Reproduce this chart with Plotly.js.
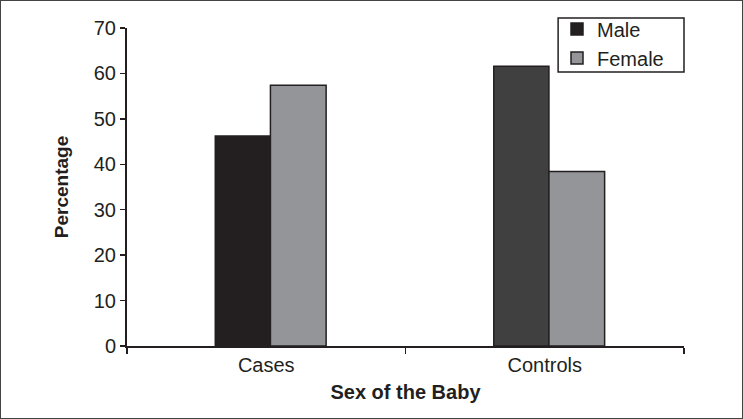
<!DOCTYPE html>
<html>
<head>
<meta charset="utf-8">
<script src="https://cdn.plot.ly/plotly-3.0.1.min.js"></script>
<style>
html,body{margin:0;padding:0;background:#fff;}
#frame{width:743px;height:419px;box-sizing:border-box;border:1px solid #444;position:relative;overflow:hidden;}
#chart{position:absolute;left:-1px;top:-1px;width:743px;height:419px;}
</style>
</head>
<body>
<div id="frame"><div id="chart"></div></div>
<script>
const categories = ["Cases", "Controls"];
const maleValues = [46.2, 61.6];
const femaleValues = [57.4, 38.4];
const yTicks = [0, 10, 20, 30, 40, 50, 60, 70];

const FONT = '"Liberation Sans Narrow", "Arial Narrow", "Liberation Sans", Arial, sans-serif';

const traces = [
  {
    type: 'bar', name: 'Male', x: categories, y: maleValues,
    width: 0.198, offset: -0.183,
    marker: {color: ['#231f20', '#404040'], line: {color: '#231f20', width: 1.5}},
    hoverinfo: 'none'
  },
  {
    type: 'bar', name: 'Female', x: categories, y: femaleValues,
    width: 0.2, offset: 0.015,
    marker: {color: '#939598', line: {color: '#231f20', width: 1.5}},
    hoverinfo: 'none'
  }
];

const layout = {
  width: 743, height: 419,
  margin: {l: 127, r: 59, t: 28, b: 73, autoexpand: false},
  paper_bgcolor: '#fff', plot_bgcolor: '#fff',
  font: {family: FONT, size: 20, color: '#231f20'},
  barmode: 'group',
  showlegend: true,
  legend: {
    x: 0.772, xanchor: 'left', y: 1.058, yanchor: 'top',
    borderwidth: 0, bgcolor: 'rgba(0,0,0,0)',
    font: {family: FONT, size: 20, color: '#231f20'},
    tracegroupgap: 0
  },
  shapes: [{
    type: 'rect', xref: 'paper', yref: 'paper',
    x0: 0.774, x1: 1.0, y0: 0.8616, y1: 1.0314,
    line: {color: '#231f20', width: 1.5}, fillcolor: '#fff', layer: 'above'
  }],
  xaxis: {
    type: 'category',
    showline: true, linecolor: '#231f20', linewidth: 2,
    ticks: 'outside', tickson: 'boundaries', ticklen: 6, tickwidth: 1.5, tickcolor: '#231f20',
    showgrid: false, zeroline: false,
    tickfont: {family: FONT, size: 20, color: '#231f20'},
    title: {text: '<b>Sex of the Baby</b>', font: {family: FONT, size: 20, color: '#231f20'}, standoff: 10}
  },
  yaxis: {
    range: [0, 70], tickvals: yTicks,
    showline: true, linecolor: '#231f20', linewidth: 2,
    ticks: 'outside', ticklen: 5, tickwidth: 1.5, tickcolor: '#231f20',
    showgrid: false, zeroline: false,
    tickfont: {family: FONT, size: 20, color: '#231f20'},
    title: {text: '<b>Percentage</b>', font: {family: '"Liberation Sans", Arial, sans-serif', size: 19, color: '#231f20'}, standoff: 20}
  }
};

Plotly.newPlot('chart', traces, layout, {displayModeBar: false, staticPlot: true});
</script>
</body>
</html>
